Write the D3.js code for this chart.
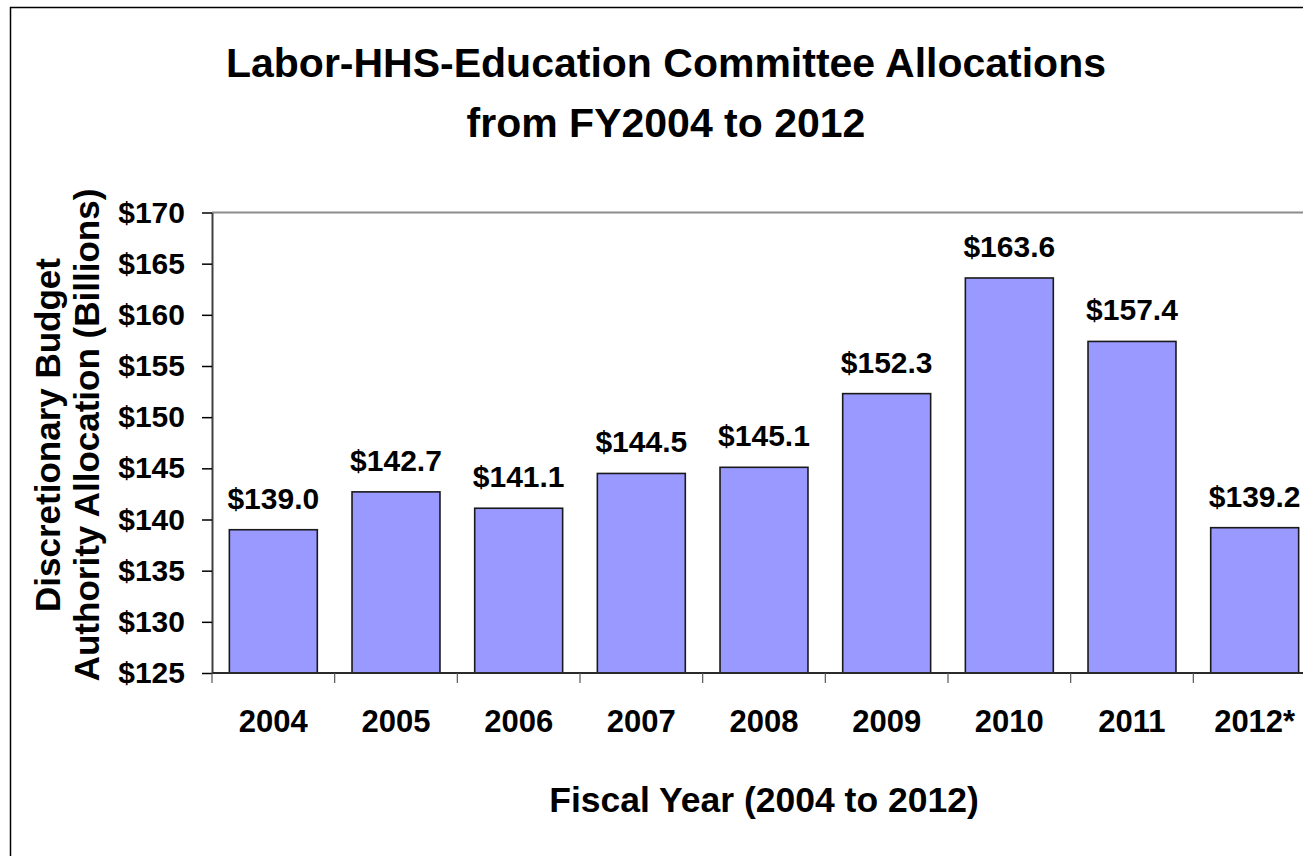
<!DOCTYPE html>
<html>
<head>
<meta charset="utf-8">
<script src="https://cdn.jsdelivr.net/npm/d3@7"></script>
<style>
  html, body { margin: 0; padding: 0; background: #fff; }
  svg { display: block; font-family: "Liberation Sans", Arial, sans-serif; font-weight: bold; }
</style>
</head>
<body>
<svg id="chart" width="1303" height="856"></svg>
<script>
// Labor-HHS-Education committee allocations, billions of dollars
const years = ["2004", "2005", "2006", "2007", "2008", "2009", "2010", "2011", "2012*"];
const allocations = [139.0, 142.7, 141.1, 144.5, 145.1, 152.3, 163.6, 157.4, 139.2];
const yTicks = [125, 130, 135, 140, 145, 150, 155, 160, 165, 170];
const titleLines = ["Labor-HHS-Education Committee Allocations", "from FY2004 to 2012"];
const yTitleLines = ["Discretionary Budget", "Authority Allocation (Billions)"];
const xTitle = "Fiscal Year (2004 to 2012)";

const svg = d3.select("#chart");
const W = 1303, H = 856;

// outer chart frame (runs past the right and bottom edges)
svg.append("rect")
  .attr("x", 10.5).attr("y", 7.5)
  .attr("width", 1400).attr("height", 900)
  .attr("fill", "none").attr("stroke", "#000").attr("stroke-width", 1.5);

const plot = { left: 212, top: 212.5, bottom: 673, right: 1316 };

const x = d3.scaleBand()
  .domain(years)
  .range([plot.left, plot.right])
  .paddingInner(0.283)
  .paddingOuter(0.1415);

const y = d3.scaleLinear()
  .domain([125, 170])
  .range([plot.bottom, plot.top]);

// top border of the plot area
svg.append("line")
  .attr("x1", plot.left).attr("x2", W)
  .attr("y1", y(170)).attr("y2", y(170))
  .attr("stroke", "#8c8c8c").attr("stroke-width", 2);

// bars
svg.append("g").selectAll("rect")
  .data(years)
  .join("rect")
  .attr("x", d => x(d))
  .attr("y", (d, i) => y(allocations[i]))
  .attr("width", x.bandwidth())
  .attr("height", (d, i) => y(125) - y(allocations[i]))
  .attr("fill", "#9999ff")
  .attr("stroke", "#1a1a1a")
  .attr("stroke-width", 1.6);

// value labels
svg.append("g").selectAll("text")
  .data(years)
  .join("text")
  .attr("x", d => x(d) + x.bandwidth() / 2)
  .attr("y", (d, i) => y(allocations[i]) - 21)
  .attr("text-anchor", "middle")
  .attr("font-size", 30)
  .attr("fill", "#000")
  .text((d, i) => "$" + allocations[i].toFixed(1));

// y axis
const yAxis = d3.axisLeft(y)
  .tickValues(yTicks)
  .tickSize(10)
  .tickSizeOuter(0)
  .tickPadding(17)
  .tickFormat(d => "$" + d);
const gy = svg.append("g")
  .attr("transform", `translate(${plot.left},0)`)
  .call(yAxis);
gy.select(".domain").attr("stroke", "#404040").attr("stroke-width", 2);
gy.selectAll(".tick line").attr("stroke", "#000").attr("stroke-width", 1.5);
gy.selectAll(".tick text")
  .attr("font-size", 30)
  .attr("font-family", "Liberation Sans, Arial, sans-serif")
  .attr("font-weight", "bold")
  .attr("fill", "#000");

// x axis line and category boundary ticks
svg.append("line")
  .attr("x1", plot.left).attr("x2", W)
  .attr("y1", plot.bottom).attr("y2", plot.bottom)
  .attr("stroke", "#2a2a2a").attr("stroke-width", 2);

const step = x.step();
svg.append("g").selectAll("line")
  .data(years)
  .join("line")
  .attr("x1", d => x(d) - (step - x.bandwidth()) / 2)
  .attr("x2", d => x(d) - (step - x.bandwidth()) / 2)
  .attr("y1", plot.bottom).attr("y2", plot.bottom + 10)
  .attr("stroke", "#555").attr("stroke-width", 1.2);

// category labels
svg.append("g").selectAll("text")
  .data(years)
  .join("text")
  .attr("x", d => x(d) + x.bandwidth() / 2)
  .attr("y", 732)
  .attr("text-anchor", "middle")
  .attr("font-size", 31)
  .text(d => d);

// chart title
svg.append("g").selectAll("text")
  .data(titleLines)
  .join("text")
  .attr("x", 666)
  .attr("y", (d, i) => 77 + i * 60)
  .attr("text-anchor", "middle")
  .attr("font-size", 41)
  .text(d => d);

// y axis title
svg.append("g").selectAll("text")
  .data(yTitleLines)
  .join("text")
  .attr("transform", (d, i) => `translate(${60 + i * 39},435) rotate(-90)`)
  .attr("text-anchor", "middle")
  .attr("font-size", 35)
  .text(d => d);

// x axis title, centred on the plot area
svg.append("text")
  .attr("x", (plot.left + plot.right) / 2)
  .attr("y", 812)
  .attr("text-anchor", "middle")
  .attr("font-size", 35.5)
  .text(xTitle);
</script>
</body>
</html>
